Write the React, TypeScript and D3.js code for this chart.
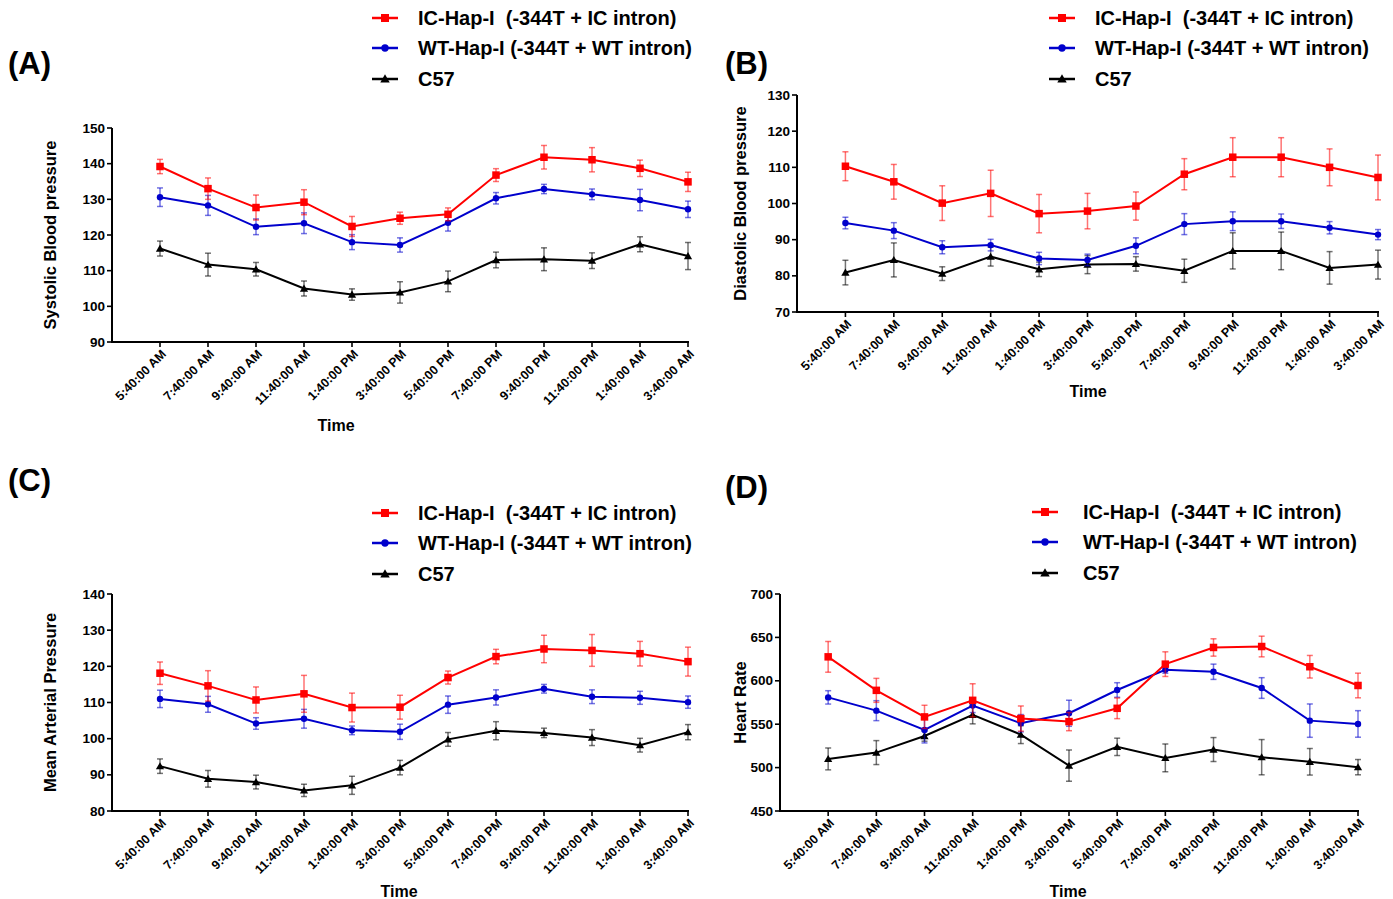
import React from "react";
import * as d3 from "d3";

const TIMES = ["5:40:00 AM", "7:40:00 AM", "9:40:00 AM", "11:40:00 AM", "1:40:00 PM", "3:40:00 PM", "5:40:00 PM", "7:40:00 PM", "9:40:00 PM", "11:40:00 PM", "1:40:00 AM", "3:40:00 AM"];
const SERIES_NAMES = ["IC-Hap-I  (-344T + IC intron)", "WT-Hap-I (-344T + WT intron)", "C57"];

const SBP_IC = [139.2, 133.0, 127.7, 129.2, 122.4, 124.7, 125.8, 136.8, 141.8, 141.1, 138.7, 134.9];
const SBP_IC_ERR = [2.0, 3.0, 3.5, 3.5, 2.8, 1.7, 1.8, 1.8, 3.3, 3.4, 2.3, 2.7];
const SBP_WT = [130.6, 128.3, 122.3, 123.3, 118.0, 117.2, 123.4, 130.3, 132.9, 131.4, 129.8, 127.2];
const SBP_WT_ERR = [2.6, 2.8, 2.2, 2.9, 2.1, 2.0, 2.3, 1.6, 1.3, 1.5, 3.0, 2.3];
const SBP_C57 = [116.2, 111.7, 110.4, 105.0, 103.3, 103.9, 107.0, 113.0, 113.2, 112.8, 117.4, 114.1];
const SBP_C57_ERR = [2.1, 3.2, 1.9, 2.1, 1.6, 3.0, 2.9, 2.2, 3.2, 2.2, 2.1, 3.8];

const DBP_IC = [110.3, 106.0, 100.1, 102.8, 97.2, 97.9, 99.3, 108.1, 112.8, 112.8, 110.0, 107.2];
const DBP_IC_ERR = [4.0, 4.8, 4.8, 6.4, 5.3, 4.9, 3.9, 4.3, 5.4, 5.4, 5.1, 6.2];
const DBP_WT = [94.6, 92.5, 87.9, 88.5, 84.8, 84.4, 88.3, 94.3, 95.1, 95.1, 93.3, 91.4];
const DBP_WT_ERR = [1.6, 2.2, 1.8, 1.6, 1.7, 1.6, 2.2, 2.9, 2.6, 2.0, 1.7, 1.4];
const DBP_C57 = [80.9, 84.4, 80.6, 85.3, 81.8, 83.1, 83.3, 81.4, 86.9, 86.9, 82.2, 83.1];
const DBP_C57_ERR = [3.4, 4.7, 1.9, 2.6, 2.0, 2.5, 2.0, 3.2, 5.0, 5.2, 4.5, 4.0];

const MAP_IC = [118.1, 114.6, 110.7, 112.4, 108.6, 108.7, 116.9, 122.7, 124.8, 124.4, 123.5, 121.3];
const MAP_IC_ERR = [3.1, 4.2, 3.6, 5.1, 4.0, 3.3, 1.8, 2.0, 3.8, 4.4, 3.4, 4.0];
const MAP_WT = [111.0, 109.5, 104.2, 105.5, 102.3, 101.9, 109.4, 111.4, 113.8, 111.6, 111.3, 110.1];
const MAP_WT_ERR = [2.4, 2.2, 1.6, 2.6, 1.2, 2.1, 2.4, 2.1, 1.2, 1.9, 1.8, 1.7];
const MAP_C57 = [92.4, 88.9, 88.0, 85.7, 87.1, 92.0, 99.8, 102.2, 101.6, 100.3, 98.2, 101.8];
const MAP_C57_ERR = [2.0, 2.3, 1.9, 1.7, 2.5, 2.0, 1.9, 2.5, 1.3, 2.2, 1.9, 2.1];

const HR_IC = [627.6, 589.0, 558.4, 577.5, 556.5, 553.0, 568.3, 619.2, 638.4, 639.5, 616.2, 594.6];
const HR_IC_ERR = [17.7, 13.8, 13.4, 19.1, 14.5, 10.5, 11.9, 14.2, 10.0, 11.9, 13.0, 14.2];
const HR_WT = [580.9, 565.6, 543.4, 571.4, 551.1, 562.6, 589.4, 612.7, 610.4, 591.7, 554.1, 550.3];
const HR_WT_ERR = [7.7, 11.5, 15.0, 8.0, 10.0, 15.0, 8.4, 4.0, 8.8, 11.9, 19.2, 15.3];
const HR_C57 = [510.0, 517.3, 536.4, 560.9, 538.0, 502.3, 523.9, 511.2, 520.8, 512.0, 506.7, 500.5];
const HR_C57_ERR = [12.6, 13.8, 6.0, 10.5, 10.3, 18.0, 10.0, 16.0, 13.8, 20.3, 15.3, 8.8];

const SBP_TICKS = [90, 100, 110, 120, 130, 140, 150];
const DBP_TICKS = [70, 80, 90, 100, 110, 120, 130];
const MAP_TICKS = [80, 90, 100, 110, 120, 130, 140];
const HR_TICKS = [450, 500, 550, 600, 650, 700];

const FONT = "'Liberation Sans', Arial, Helvetica, sans-serif";
const COLORS = ["#ff0000", "#0000cc", "#000000"];
const SHAPES = ["square", "circle", "triangle"];

type PanelProps = {
  letter: string; letterX: number; letterY: number;
  axisX: number; endX: number; yTop: number; yBot: number;
  ticks: number[]; yTitle: string; yTitleX: number;
  timeX: number; timeY: number;
  legendX: number; legendTextX: number; legendY: number[];
  values: number[][]; errors: number[][];
};

function Marker({ shape, x, y, color, size }: { shape: string; x: number; y: number; color: string; size: number }) {
  if (shape === "square") return <rect x={x - size / 2} y={y - size / 2} width={size} height={size} fill={color} />;
  if (shape === "circle") return <circle cx={x} cy={y} r={size / 2 - 0.3} fill={color} />;
  const sym = d3.symbol().type(d3.symbolTriangle).size(size * size * 0.6)();
  return <path d={sym || ""} transform={`translate(${x},${y + 0.8})`} fill={color} />;
}

function Panel(p: PanelProps) {
  const x = d3.scaleLinear().domain([0, TIMES.length]).range([p.axisX, p.endX]);
  const y = d3.scaleLinear().domain([p.ticks[0], p.ticks[p.ticks.length - 1]]).range([p.yBot, p.yTop]);
  const line = d3.line<number>().x((_, i) => x(i + 1)).y((v) => y(v));
  const order = [2, 1, 0];
  return (
    <g fontFamily={FONT} fontWeight="bold">
      <text x={p.letterX} y={p.letterY} fontSize={31} dominantBaseline="central">{p.letter}</text>
      {SERIES_NAMES.map((name, k) => (
        <g key={name}>
          <line x1={p.legendX - 13} x2={p.legendX + 13} y1={p.legendY[k]} y2={p.legendY[k]} stroke={COLORS[k]} strokeWidth={2.5} />
          <Marker shape={SHAPES[k]} x={p.legendX} y={p.legendY[k]} color={COLORS[k]} size={8} />
          <text x={p.legendTextX} y={p.legendY[k]} fontSize={20} dominantBaseline="central" style={{ whiteSpace: "pre" }}>{name}</text>
        </g>
      ))}
      <line x1={p.axisX} x2={p.axisX} y1={p.yTop} y2={p.yBot} stroke="#000" strokeWidth={2} />
      {p.ticks.map((t) => (
        <g key={t}>
          <line x1={p.axisX - 5} x2={p.axisX} y1={y(t)} y2={y(t)} stroke="#000" strokeWidth={1.6} />
          <text x={p.axisX - 7} y={y(t)} fontSize={13.5} textAnchor="end" dominantBaseline="central">{t}</text>
        </g>
      ))}
      <text transform={`translate(${p.yTitleX},${(p.yTop + p.yBot) / 2}) rotate(-90)`} fontSize={16.5} textAnchor="middle" dominantBaseline="central">{p.yTitle}</text>
      <line x1={p.axisX - 1} x2={p.endX + 1} y1={p.yBot} y2={p.yBot} stroke="#000" strokeWidth={2} />
      {TIMES.map((t, i) => (
        <g key={t + i}>
          <line x1={x(i + 1)} x2={x(i + 1)} y1={p.yBot} y2={p.yBot + 5} stroke="#000" strokeWidth={1.6} />
          <text transform={`translate(${x(i + 1) + 4},${p.yBot + 10}) rotate(-45)`} fontSize={12.5} textAnchor="end" dominantBaseline="central">{t}</text>
        </g>
      ))}
      <text x={p.timeX} y={p.timeY} fontSize={16} textAnchor="middle" dominantBaseline="central">Time</text>
      {order.map((k) => (
        <g key={k}>
          {p.values[k].map((v, i) => {
            const e = p.errors[k][i];
            const cx = x(i + 1);
            return (
              <g key={i} stroke={COLORS[k]} strokeOpacity={0.55} strokeWidth={1.5}>
                <line x1={cx} x2={cx} y1={y(v - e)} y2={y(v + e)} />
                <line x1={cx - 3} x2={cx + 3} y1={y(v - e)} y2={y(v - e)} />
                <line x1={cx - 3} x2={cx + 3} y1={y(v + e)} y2={y(v + e)} />
              </g>
            );
          })}
          <path d={line(p.values[k]) || ""} fill="none" stroke={COLORS[k]} strokeWidth={2} />
          {p.values[k].map((v, i) => (
            <Marker key={i} shape={SHAPES[k]} x={x(i + 1)} y={y(v)} color={COLORS[k]} size={k === 0 ? 7.5 : 7} />
          ))}
        </g>
      ))}
    </g>
  );
}

export default function App() {
  return (
    <svg width={1393} height={899} style={{ position: "absolute", left: 0, top: 0, background: "#fff" }}>
      <rect width={1393} height={899} fill="#fff" />
      <Panel letter="(A)" letterX={8} letterY={63} axisX={112} endX={688} yTop={128} yBot={342}
        ticks={SBP_TICKS} yTitle="Systolic Blood pressure" yTitleX={50} timeX={336} timeY={425}
        legendX={385} legendTextX={418} legendY={[18, 48, 79]}
        values={[SBP_IC, SBP_WT, SBP_C57]} errors={[SBP_IC_ERR, SBP_WT_ERR, SBP_C57_ERR]} />
      <Panel letter="(B)" letterX={725} letterY={63} axisX={797} endX={1378} yTop={95} yBot={312}
        ticks={DBP_TICKS} yTitle="Diastolic Blood pressure" yTitleX={740} timeX={1088} timeY={391}
        legendX={1062} legendTextX={1095} legendY={[18, 48, 79]}
        values={[DBP_IC, DBP_WT, DBP_C57]} errors={[DBP_IC_ERR, DBP_WT_ERR, DBP_C57_ERR]} />
      <Panel letter="(C)" letterX={8} letterY={480} axisX={112} endX={688} yTop={594} yBot={811}
        ticks={MAP_TICKS} yTitle="Mean Arterial Pressure" yTitleX={50} timeX={399} timeY={891}
        legendX={385} legendTextX={418} legendY={[513, 543, 574]}
        values={[MAP_IC, MAP_WT, MAP_C57]} errors={[MAP_IC_ERR, MAP_WT_ERR, MAP_C57_ERR]} />
      <Panel letter="(D)" letterX={725} letterY={487} axisX={780} endX={1358} yTop={594} yBot={811}
        ticks={HR_TICKS} yTitle="Heart Rate" yTitleX={740} timeX={1068} timeY={891}
        legendX={1045} legendTextX={1083} legendY={[512, 542, 573]}
        values={[HR_IC, HR_WT, HR_C57]} errors={[HR_IC_ERR, HR_WT_ERR, HR_C57_ERR]} />
    </svg>
  );
}
